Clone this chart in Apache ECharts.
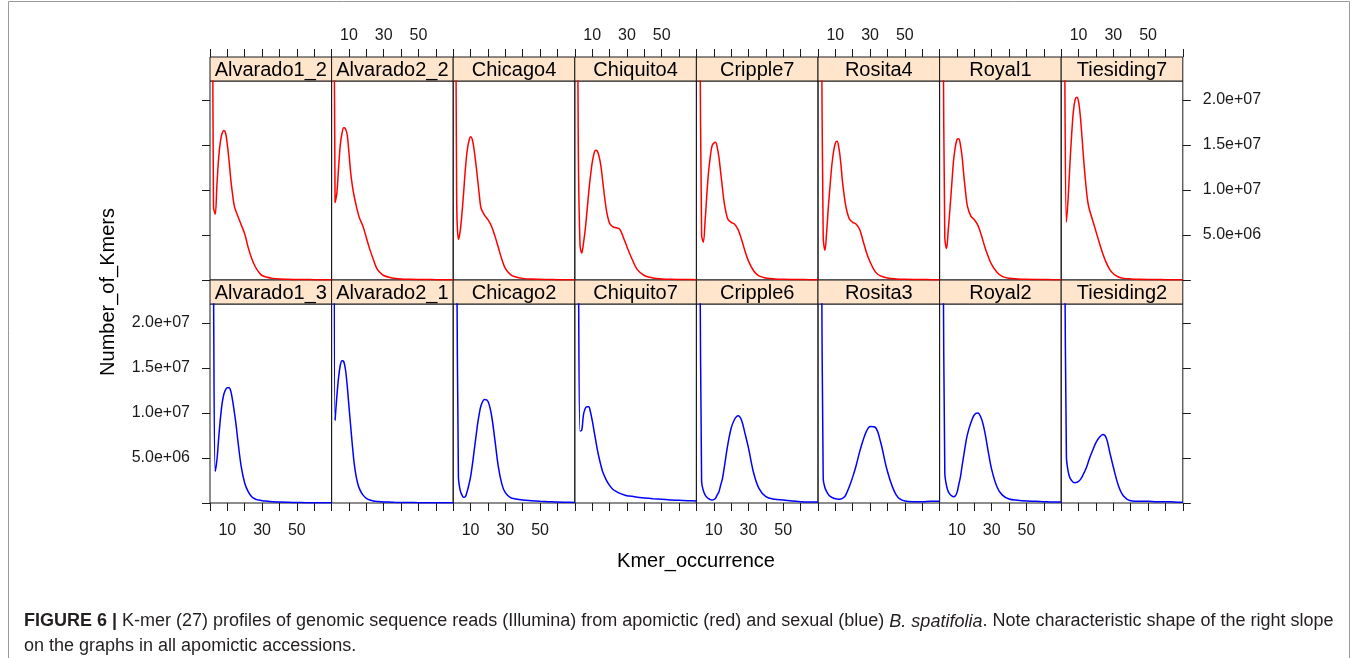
<!DOCTYPE html>
<html lang="en">
<head>
<meta charset="utf-8">
<title>K-mer profiles</title>
<script src="https://cdn.jsdelivr.net/npm/echarts@6/dist/echarts.min.js"></script>
<style>
  html, body { margin: 0; padding: 0; background: #fff; }
  #main { width: 1357px; height: 658px; }
</style>
</head>
<body>
<div id="main"></div>
<script>
// k-mer occurrence (x) shared by every panel
var occurrence = [1.5, 2, 3, 4, 5, 6, 7, 8, 9, 10, 11, 12, 13, 14, 15, 16, 18, 20, 22, 24, 26, 28, 30, 33, 36, 40, 45, 50, 55, 60, 65, 70];

// number of k-mers, in millions (first value runs off the top of the panel)
// apomictic accessions (red, top row)
var alvarado1_2 = [40, 8.2, 7.3, 10.6, 13.6, 15.4, 16.3, 16.6, 16.3, 15.0, 13.2, 11.1, 9.5, 8.2, 7.6, 7.1, 6.1, 5.1, 3.6, 2.4, 1.5, 0.9, 0.5, 0.3, 0.18, 0.11, 0.08, 0.06, 0.05, 0.04, 0.03, 0.02];
var alvarado2_2 = [40, 8.6, 9.6, 12.4, 15.0, 16.3, 16.9, 16.8, 16.1, 14.1, 11.9, 10.4, 9.3, 8.4, 7.6, 6.9, 6.0, 4.7, 3.4, 2.3, 1.3, 0.8, 0.5, 0.3, 0.2, 0.12, 0.08, 0.06, 0.05, 0.04, 0.03, 0.02];
var chicago4    = [40, 9.0, 4.5, 5.4, 7.3, 9.7, 12.3, 14.3, 15.4, 15.9, 15.6, 14.5, 13.0, 11.3, 9.5, 8.0, 7.2, 6.7, 6.0, 4.9, 3.6, 2.3, 1.3, 0.6, 0.33, 0.18, 0.1, 0.07, 0.05, 0.04, 0.03, 0.03];
var chiquito4   = [40, 15, 3.9, 3.0, 4.1, 5.6, 7.6, 9.7, 11.5, 13.0, 14.0, 14.4, 14.3, 13.7, 12.7, 11.1, 8.0, 6.3, 5.9, 5.8, 5.6, 4.7, 3.7, 2.3, 1.15, 0.5, 0.22, 0.12, 0.08, 0.06, 0.05, 0.04];
var cripple7    = [40, 30, 5.0, 4.2, 6.5, 9.5, 12.0, 13.7, 14.9, 15.2, 15.3, 14.7, 13.6, 11.9, 10.2, 8.6, 6.8, 6.4, 6.2, 5.6, 4.5, 3.2, 2.1, 1.0, 0.45, 0.22, 0.12, 0.08, 0.06, 0.05, 0.04, 0.03];
var rosita4     = [40, 30, 4.7, 3.3, 5.4, 8.2, 10.6, 12.8, 14.3, 15.2, 15.4, 14.7, 13.2, 11.1, 9.5, 8.2, 6.8, 6.4, 6.2, 5.6, 4.3, 3.0, 2.0, 0.9, 0.45, 0.22, 0.12, 0.08, 0.06, 0.05, 0.04, 0.03];
var royal1      = [40, 30, 4.7, 3.5, 5.6, 8.0, 10.6, 13.2, 14.7, 15.6, 15.7, 15.0, 13.6, 11.5, 9.7, 8.2, 7.1, 6.7, 6.1, 5.0, 3.7, 2.6, 1.7, 0.85, 0.4, 0.2, 0.12, 0.08, 0.06, 0.05, 0.04, 0.03];
var tiesiding7  = [40, 25, 6.4, 9.1, 12.8, 16.1, 18.7, 20.0, 20.3, 19.8, 18.2, 15.8, 13.2, 11.0, 9.1, 8.0, 6.7, 5.4, 4.1, 2.9, 1.9, 1.15, 0.7, 0.33, 0.18, 0.12, 0.08, 0.06, 0.05, 0.04, 0.03, 0.02];

// sexual accessions (blue, bottom row)
var alvarado1_3 = [40, 25, 3.5, 4.8, 7.2, 9.4, 11.1, 12.1, 12.6, 12.8, 12.8, 12.4, 11.4, 10.1, 8.7, 7.0, 4.0, 2.2, 1.26, 0.7, 0.44, 0.33, 0.26, 0.2, 0.15, 0.1, 0.07, 0.05, 0.04, 0.03, 0.02, 0.02];
var alvarado2_1 = [40, 9.2, 11.8, 13.9, 15.3, 15.8, 15.7, 14.8, 13.0, 10.7, 8.5, 6.3, 4.4, 3.1, 2.2, 1.6, 0.9, 0.52, 0.33, 0.22, 0.18, 0.15, 0.12, 0.1, 0.08, 0.06, 0.05, 0.04, 0.03, 0.03, 0.02, 0.02];
var chicago2    = [40, 30, 2.9, 1.44, 0.9, 0.63, 0.7, 1.26, 2.0, 2.9, 4.2, 5.7, 7.2, 8.7, 9.9, 10.8, 11.5, 11.3, 9.8, 7.0, 4.0, 2.1, 1.15, 0.6, 0.44, 0.33, 0.26, 0.2, 0.15, 0.1, 0.08, 0.06];
var chiquito7   = [40, 30, 8.0, 8.1, 9.8, 10.5, 10.7, 10.7, 10.1, 9.2, 8.1, 7.0, 5.9, 5.0, 4.2, 3.5, 2.6, 1.96, 1.5, 1.26, 1.07, 0.93, 0.81, 0.74, 0.63, 0.56, 0.48, 0.41, 0.33, 0.3, 0.26, 0.22];
var cripple6    = [40, 30, 2.4, 1.37, 0.9, 0.63, 0.48, 0.37, 0.33, 0.37, 0.52, 0.9, 1.26, 2.0, 2.7, 3.9, 6.4, 8.3, 9.3, 9.7, 9.2, 7.7, 6.1, 3.3, 1.63, 0.7, 0.41, 0.33, 0.22, 0.15, 0.11, 0.1];
var rosita3     = [40, 30, 2.7, 1.7, 1.26, 0.93, 0.74, 0.63, 0.52, 0.48, 0.44, 0.41, 0.44, 0.52, 0.63, 0.9, 1.8, 2.9, 4.2, 5.7, 7.0, 8.0, 8.5, 8.4, 6.8, 3.5, 0.9, 0.22, 0.15, 0.15, 0.19, 0.19];
var royal2      = [40, 30, 3.3, 1.9, 1.26, 0.96, 0.78, 0.7, 0.78, 1.15, 2.0, 2.9, 4.2, 5.4, 6.6, 7.6, 8.9, 9.8, 10.0, 9.4, 7.9, 5.7, 3.7, 1.8, 0.9, 0.44, 0.3, 0.22, 0.19, 0.15, 0.11, 0.1];
var tiesiding2  = [40, 30, 5.1, 3.5, 2.8, 2.5, 2.3, 2.26, 2.3, 2.4, 2.6, 2.9, 3.3, 3.7, 4.2, 4.8, 5.8, 6.7, 7.3, 7.6, 7.2, 5.6, 4.0, 1.9, 0.75, 0.25, 0.19, 0.19, 0.15, 0.15, 0.11, 0.07];

var topNames = ['Alvarado1_2', 'Alvarado2_2', 'Chicago4', 'Chiquito4', 'Cripple7', 'Rosita4', 'Royal1', 'Tiesiding7'];
var bottomNames = ['Alvarado1_3', 'Alvarado2_1', 'Chicago2', 'Chiquito7', 'Cripple6', 'Rosita3', 'Royal2', 'Tiesiding2'];
var topValues = [alvarado1_2, alvarado2_2, chicago4, chiquito4, cripple7, rosita4, royal1, tiesiding7];
var bottomValues = [alvarado1_3, alvarado2_1, chicago2, chiquito7, cripple6, rosita3, royal2, tiesiding2];

var xTicks = [0, 10, 20, 30, 40, 50, 60, 70];
var xLabels = [10, 30, 50];
var yTicks = [0, 5, 10, 15, 20];
var yLabels = [5, 10, 15, 20];

// layout
var FONT = "'Liberation Sans', Arial, sans-serif";
var PANEL_LEFT = 210, PANEL_W = 121.6, PANEL_H = 199, STRIP = 24;
var ROW_TOP = [81, 304];
var INK = '#1a1a1a';

function sci(v) {
    var n = v * 1e6;
    var e = Math.floor(Math.log10(n) + 1e-9);
    var m = n / Math.pow(10, e);
    return m.toFixed(1) + 'e+' + (e < 10 ? '0' : '') + e;
}

var grids = [], xAxes = [], yAxes = [], series = [], graphics = [];
var rows = [
    { names: topNames, values: topValues, color: '#ff0000' },
    { names: bottomNames, values: bottomValues, color: '#0000ff' }
];

rows.forEach(function (row, r) {
    for (var c = 0; c < 8; c++) {
        var idx = r * 8 + c;
        var left = PANEL_LEFT + c * PANEL_W;
        grids.push({
            left: left, top: ROW_TOP[r], width: PANEL_W, height: PANEL_H,
            show: true, borderColor: INK, borderWidth: 1,
            containLabel: false, outerBoundsMode: 'none'
        });
        var showX = r === 0 ? c % 2 === 1 : c % 2 === 0;
        xAxes.push({
            gridIndex: idx, type: 'value', min: 0, max: 70, interval: 10,
            position: r === 0 ? 'top' : 'bottom',
            offset: r === 0 ? STRIP : 0,
            axisLine: { show: false, onZero: false },
            axisTick: { show: true, length: 8, customValues: xTicks, lineStyle: { color: INK, width: 1 } },
            axisLabel: {
                show: showX, customValues: xLabels, margin: r === 0 ? 13 : 20,
                fontSize: 16, fontFamily: FONT, color: INK
            },
            splitLine: { show: false }
        });
        var edge = c === 0 || c === 7;
        yAxes.push({
            gridIndex: idx, type: 'value', min: 0, max: 22.1,
            position: c === 7 ? 'right' : 'left',
            show: edge,
            axisLine: { show: false, onZero: false },
            axisTick: { show: edge, length: 8, customValues: yTicks, lineStyle: { color: INK, width: 1 } },
            axisLabel: {
                show: (r === 0 && c === 7) || (r === 1 && c === 0),
                customValues: yLabels, margin: 20,
                fontSize: 16, fontFamily: FONT, color: INK,
                formatter: sci
            },
            splitLine: { show: false }
        });
        var vals = row.values[c];
        series.push({
            type: 'line', xAxisIndex: idx, yAxisIndex: idx,
            data: occurrence.map(function (x, i) { return [x, vals[i]]; }),
            showSymbol: false, smooth: 0.35, clip: true,
            lineStyle: { color: row.color, width: 1.5 },
            animation: false, silent: true
        });
        // strip header
        graphics.push({
            type: 'rect',
            shape: { x: left, y: ROW_TOP[r] - STRIP, width: PANEL_W, height: STRIP },
            style: { fill: '#ffe5cc', stroke: INK, lineWidth: 1 }
        });
        graphics.push({
            type: 'text',
            x: left + PANEL_W / 2, y: ROW_TOP[r] - STRIP / 2 + 1,
            style: {
                text: row.names[c], fill: '#000', font: '20px ' + FONT,
                align: 'center', verticalAlign: 'middle'
            }
        });
    }
});

// axis titles
graphics.push({
    type: 'text', x: 108, y: 292, rotation: Math.PI / 2,
    style: { text: 'Number_of_Kmers', fill: '#000', font: '20px ' + FONT, align: 'center', verticalAlign: 'middle' }
});
graphics.push({
    type: 'text', x: 696, y: 561,
    style: { text: 'Kmer_occurrence', fill: '#000', font: '20px ' + FONT, align: 'center', verticalAlign: 'middle' }
});

// frame
graphics.push({
    type: 'rect', shape: { x: 8.5, y: 1.5, width: 1341, height: 700 },
    style: { fill: 'none', stroke: '#9a9a9a', lineWidth: 1 }
});

// caption
graphics.push({
    type: 'text', x: 24, y: 609,
    style: {
        text: '{b|FIGURE 6 |} K-mer (27) profiles of genomic sequence reads (Illumina) from apomictic (red) and sexual (blue) {i|B. spatifolia}. Note characteristic shape of the right slope\non the graphs in all apomictic accessions.',
        fill: '#231f20', font: '18px ' + FONT, lineHeight: 25,
        rich: {
            b: { fontWeight: 'bold', fontSize: 18, fontFamily: FONT, fill: '#231f20', lineHeight: 25 },
            i: { fontStyle: 'italic', fontSize: 18, fontFamily: FONT, fill: '#231f20', lineHeight: 25 }
        }
    }
});

var chart = echarts.init(document.getElementById('main'));
chart.setOption({
    animation: false,
    backgroundColor: '#fff',
    grid: grids,
    xAxis: xAxes,
    yAxis: yAxes,
    series: series,
    graphic: graphics
});
</script>
</body>
</html>
